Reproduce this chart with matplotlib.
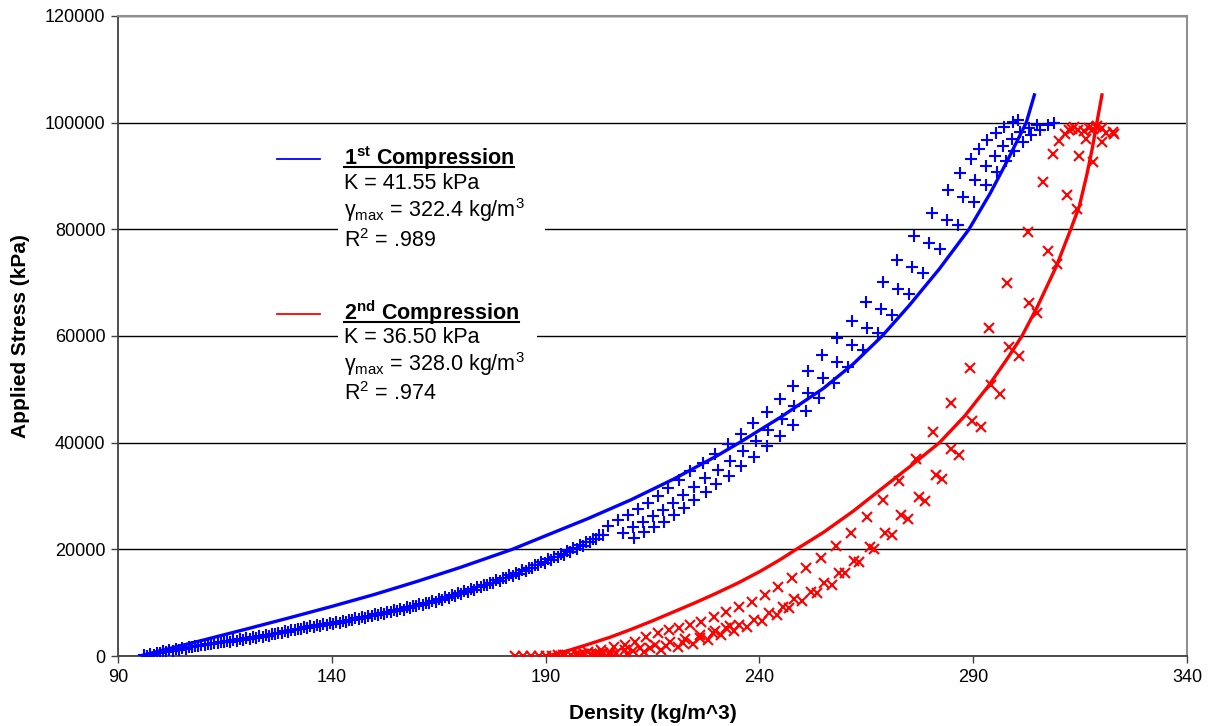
import numpy as np
import matplotlib.pyplot as plt
from matplotlib.patches import Rectangle
from matplotlib.lines import Line2D

plt.rcParams['font.family'] = ['Liberation Sans', 'DejaVu Sans']
plt.rcParams['mathtext.fontset'] = 'custom'
plt.rcParams['mathtext.rm'] = 'Liberation Sans'
plt.rcParams['mathtext.it'] = 'Liberation Sans:italic'
plt.rcParams['mathtext.bf'] = 'Liberation Sans:bold'

# ---- data ----
# 1st compression, measured points (dense band, then three interleaved strands)
blue_band_x = [96, 97.5, 99, 100.5, 102, 103.5, 105, 106.5, 108, 109.5, 111, 112.5, 114, 115.5,
               117, 118.5, 120, 121.5, 123, 124.5, 126, 127.5, 129, 130.5, 132, 133.5, 135, 136.5,
               138, 139.5, 141, 142.5, 144, 145.5, 147, 148.5, 150, 151.5, 153, 154.5, 156, 157.5,
               159, 160.5, 162, 163.5, 165, 166.5, 168, 169.5, 171, 172.5, 174, 175.5, 177, 178.5,
               180, 181.5, 183, 184.5, 186, 187.5, 189, 190.5, 192, 193.5, 195, 196.5, 198, 199.5,
               201, 202.5]
blue_band_y = [100, 350, 600, 850, 1050, 1300, 1500, 1700, 1900, 2100, 2300, 2450, 2650, 2800,
               2950, 3100, 3300, 3500, 3700, 3900, 4150, 4400, 4650, 4900, 5150, 5350, 5550, 5750,
               5950, 6150, 6350, 6550, 6800, 7050, 7300, 7550, 7800, 8050, 8300, 8550, 8800, 9100,
               9400, 9700, 10000, 10300, 10650, 11000, 11350, 11750, 12150, 12550, 12950, 13350, 13750, 14200,
               14650, 15100, 15550, 16050, 16550, 17100, 17600, 18100, 18600, 19100, 19600, 20200, 20800, 21400,
               22000, 22700]

blue_band2_x = [96.8, 98.3, 99.8, 101.3, 102.8, 104.3, 105.8, 107.3, 108.8, 110.3, 111.8, 113.3,
                114.8, 116.3, 117.8, 119.3, 120.8, 122.3, 123.8, 125.3, 126.8, 128.3, 129.8, 131.3,
                132.8, 134.3, 135.8, 137.3, 138.8, 140.3, 141.8, 143.3, 144.8, 146.3, 147.8, 149.3,
                150.8, 152.3, 153.8, 155.3, 156.8, 158.3, 159.8, 161.3, 162.8, 164.3, 165.8, 167.3,
                168.8, 170.3, 171.8, 173.3, 174.8, 176.3, 177.8, 179.3, 180.8, 182.3, 183.8, 185.3,
                186.8, 188.3, 189.8, 191.3, 192.8, 194.3, 195.8, 197.3, 198.8, 200.3, 201.8, 203.3]
blue_band2_y = [0, 250, 500, 750, 950, 1200, 1400, 1600, 1800, 2000, 2200, 2350,
                2550, 2700, 2850, 3000, 3200, 3400, 3600, 3800, 4050, 4300, 4550, 4800,
                5050, 5250, 5450, 5650, 5850, 6050, 6250, 6450, 6700, 6950, 7200, 7450,
                7700, 7950, 8200, 8450, 8700, 9000, 9300, 9600, 9900, 10200, 10550, 10900,
                11250, 11650, 12050, 12450, 12850, 13250, 13650, 14100, 14550, 15000, 15450, 15950,
                16450, 17000, 17500, 18000, 18500, 19000, 19500, 20100, 20700, 21300, 21900, 22600]

blue_a_x = [204.6, 206.9, 209.2, 211.6, 213.9, 216.2, 218.6, 221.3, 223.8, 226.8, 229.7, 232.6,
            235.7, 238.6, 241.7, 244.7, 247.9, 251.3, 254.6, 258.1, 261.6, 264.9, 268.8, 272.2,
            276.2, 280.3, 284.0, 286.9, 289.5, 291.4, 293.3, 295.3, 297.2, 299.2, 300.5]
blue_a_y = [24400, 25500, 26400, 27500, 28700, 30000, 31500, 33000, 34600, 36100, 37900, 39700,
            41600, 43600, 45700, 48200, 50700, 53500, 56400, 59600, 62800, 66300, 70200, 74200,
            78700, 83100, 87400, 90600, 93100, 95000, 96700, 98000, 99100, 100200, 100500]

blue_b_x = [208.1, 210.4, 212.7, 215.1, 217.4, 219.7, 222.1, 224.8, 227.3, 230.3, 233.2, 236.1,
            239.2, 242.1, 245.2, 248.2, 251.4, 254.8, 258.1, 261.6, 265.1, 268.4, 272.3, 275.7,
            279.7, 283.8, 287.5, 290.4, 293.0, 295.0, 297.0, 299.0, 301.0, 303.0, 305.0]
blue_b_y = [23100, 24200, 25100, 26200, 27400, 28700, 30200, 31700, 33300, 34800, 36600, 38400,
            40300, 42300, 44400, 46900, 49400, 52200, 55100, 58300, 61500, 65000, 68900, 72900,
            77400, 81800, 86100, 89300, 91800, 93800, 95600, 97000, 98200, 99000, 99500]

blue_c_x = [210.7, 213.0, 215.3, 217.7, 220.0, 222.3, 224.7, 227.4, 229.9, 232.9, 235.8, 238.7,
            241.8, 244.7, 247.8, 250.8, 254.0, 257.4, 260.7, 264.2, 267.7, 271.0, 274.9, 278.3,
            282.3, 286.4, 290.1, 293.0, 295.6, 297.6, 299.6, 301.6, 303.6, 305.6, 307.5, 309.0]
blue_c_y = [22100, 23200, 24100, 25200, 26400, 27700, 29200, 30700, 32300, 33800, 35600, 37400,
            39300, 41300, 43400, 45900, 48400, 51200, 54100, 57300, 60500, 64000, 67900, 71900,
            76400, 80800, 85100, 88300, 90800, 92800, 94700, 96300, 97600, 98700, 99500, 100000]

# 2nd compression, measured points
red_zero_x = [182.8, 184.7, 186.6, 188.5, 190.2, 191.5, 193, 194.5, 196, 197.5, 199, 200.5, 202, 203.5]
red_zero_y = [0, 0, 0, 0, 0, 50, 100, 150, 150, 200, 300, 300, 450, 500]

red_a_x = [194, 197, 200, 203, 206, 208.5, 210.8, 213.5, 216.2, 218.8, 221.3, 223.8, 226.4, 229.3,
           232.2, 235.2, 238.2, 241.2, 244.3, 247.6, 250.9, 254.4, 257.9, 261.4, 265.1, 268.8,
           272.7, 276.6, 280.7, 284.9, 289.2, 293.6, 298.0, 302.7, 306.4, 308.7, 310.1, 311.5,
           312.4, 313.2]
red_a_y = [100, 400, 800, 1200, 1600, 2100, 2700, 3500, 4350, 4800, 5200, 5800, 6450, 7300,
           8200, 9150, 10200, 11500, 13000, 14700, 16450, 18300, 20700, 23100, 26000, 29250,
           32900, 36950, 41950, 47500, 53950, 61450, 70000, 79550, 88950, 94100, 96600, 97900,
           98600, 98900]

red_d_x = [198, 201.5, 205, 208.5, 212, 215.5, 219, 222.5, 226, 229.5, 233]
red_d_y = [200, 450, 750, 1100, 1550, 2050, 2600, 3250, 3950, 4750, 5600]

red_b_x = [202.6, 206.5, 210.4, 214.3, 218.2, 222.1, 226.0, 229.1, 232.2, 235.3, 238.8, 242.3,
           245.4, 248.2, 252.1, 255.2, 258.7, 262.0, 265.9, 269.4, 273.1, 277.2, 281.3, 284.8,
           289.8, 294.1, 298.3, 303.1, 307.6, 312.0, 314.8, 316.3, 318.7]
red_b_y = [375, 625, 1000, 1440, 1875, 2500, 3310, 4250, 5190, 5810, 6750, 8000,
           9250, 10625, 12060, 13625, 15500, 17875, 20500, 23125, 26440, 29875, 33940, 38750,
           44125, 50810, 58000, 66250, 76000, 86440, 93750, 96875, 99250]

red_c_x = [205, 209, 213, 217, 221, 224.5, 228, 231, 234, 237, 240.5, 244, 247, 250, 253.5, 257,
           259.9, 263.2, 266.9, 270.9, 274.7, 278.7, 282.8, 286.6, 291.8, 296.3, 300.6, 305.0,
           309.7, 314.3, 317.9, 320.2, 322.6]
red_c_y = [200, 450, 800, 1200, 1700, 2300, 3000, 3900, 4700, 5500, 6500, 7700, 9000, 10300, 11800, 13300,
           15500, 17625, 20000, 22690, 25625, 29125, 33190, 37690, 43000, 49125, 56250, 64250,
           73500, 83750, 92690, 96440, 98310]

red_top_x = [313.5, 314.5, 316, 317, 318, 319, 320, 321, 323]
red_top_y = [99200, 98700, 98500, 99000, 98800, 99300, 99000, 98000, 97800]

# fitted curves
fit1_x = [95.1, 100, 110, 120, 130, 140, 150, 160, 170, 182.2, 190, 200, 210, 220, 230, 235.3,
          245, 255, 262, 268.7, 275, 282, 289, 294, 298, 302.4, 304.3]
fit1_y = [0, 1000, 3000, 5050, 7150, 9300, 11550, 14000, 16600, 20000, 22550, 25800, 29300, 33200,
          37500, 40000, 44800, 50200, 54800, 60000, 65700, 72500, 80000, 86800, 92900, 100000, 105200]

fit2_x = [190.2, 193, 196, 200, 205, 210, 215, 220, 225, 230, 235, 240, 244.7, 248.6, 255, 262,
          268, 275, 282.1, 288, 293.7, 298, 301.4, 305, 309.4, 312.8, 314.8, 316.5, 317.8, 318.8, 320.1]
fit2_y = [0, 500, 1200, 2200, 3500, 5000, 6600, 8300, 10000, 11800, 13700, 15800, 18000, 20000,
          23200, 27200, 31000, 35400, 40000, 45000, 50800, 55800, 60000, 65500, 73000, 80000, 84300,
          90000, 95000, 99500, 105200]

x_ticks = [90, 140, 190, 240, 290, 340]
y_ticks = [0, 20000, 40000, 60000, 80000, 100000, 120000]

BLUE = '#0000ff'
RED = '#ff0000'

fig = plt.figure(figsize=(12.13, 7.26), dpi=100)
ax = fig.add_axes([0.0973, 0.0964, 0.8813, 0.8816])

blue_x = blue_band_x + blue_band2_x + blue_a_x + blue_b_x + blue_c_x
blue_y = blue_band_y + blue_band2_y + blue_a_y + blue_b_y + blue_c_y
red_x = red_zero_x + red_a_x + red_d_x + red_b_x + red_c_x + red_top_x
red_y = red_zero_y + red_a_y + red_d_y + red_b_y + red_c_y + red_top_y

ax.plot(blue_x, blue_y, ls='none', marker='+', ms=8.5, mew=1.5, color=BLUE, zorder=3)
ax.plot(red_x, red_y, ls='none', marker='x', ms=6.8, mew=1.5, color=RED, zorder=3)
ax.plot(fit1_x, fit1_y, color=BLUE, lw=2.4, zorder=4, solid_joinstyle='round')
ax.plot(fit2_x, fit2_y, color=RED, lw=2.4, zorder=4, solid_joinstyle='round')

ax.set_xlim(90, 340)
ax.set_ylim(0, 120000)
ax.set_xticks(x_ticks)
ax.set_yticks(y_ticks)
ax.tick_params(direction='out', length=5, width=1, labelsize=13, pad=4, color='#404040')
ax.yaxis.grid(True, color='black', lw=1)
ax.set_axisbelow(True)
for s in ['left', 'bottom']:
    ax.spines[s].set_color('#404040')
    ax.spines[s].set_linewidth(1.3)
for s in ['top', 'right']:
    ax.spines[s].set_color('#909090')
    ax.spines[s].set_linewidth(1.5)

ax.set_xlabel('Density (kg/m^3)', fontsize=15, fontweight='bold', labelpad=13)
ax.set_ylabel('Applied Stress (kPa)', fontsize=15, fontweight='bold', labelpad=11)

# white boxes behind the legend text (they hide the grid lines)
ax.add_patch(Rectangle((0.2058, 0.6156), 0.1936, 0.194, transform=ax.transAxes,
                       facecolor='white', edgecolor='none', zorder=1.5))
ax.add_patch(Rectangle((0.2058, 0.381), 0.1862, 0.186, transform=ax.transAxes,
                       facecolor='white', edgecolor='none', zorder=1.5))

ax.add_line(Line2D([0.1487, 0.189], [0.7766, 0.7766], transform=ax.transAxes, color=BLUE, lw=1.3))
ax.add_line(Line2D([0.1487, 0.189], [0.5344, 0.5344], transform=ax.transAxes, color=RED, lw=1.3))

tx = 0.2114
fs = 15.5
titles = []
titles.append(ax.text(tx, 0.7672, r'$\mathbf{1^{st}}$ Compression', transform=ax.transAxes,
                      fontsize=fs, fontweight='bold', va='baseline', zorder=5))
ax.text(tx, 0.7292, 'K = 41.55 kPa', transform=ax.transAxes, fontsize=fs, va='baseline', zorder=5)
ax.text(tx, 0.6855, r'$\mathrm{γ_{max}}$ = 322.4 kg/$\mathrm{m^3}$', transform=ax.transAxes,
        fontsize=fs, va='baseline', zorder=5)
ax.text(tx, 0.6386, r'$\mathrm{R^2}$ = .989', transform=ax.transAxes, fontsize=fs, va='baseline', zorder=5)

titles.append(ax.text(tx, 0.525, r'$\mathbf{2^{nd}}$ Compression', transform=ax.transAxes,
                      fontsize=fs, fontweight='bold', va='baseline', zorder=5))
ax.text(tx, 0.4886, 'K = 36.50 kPa', transform=ax.transAxes, fontsize=fs, va='baseline', zorder=5)
ax.text(tx, 0.4458, r'$\mathrm{γ_{max}}$ = 328.0 kg/$\mathrm{m^3}$', transform=ax.transAxes,
        fontsize=fs, va='baseline', zorder=5)
ax.text(tx, 0.40, r'$\mathrm{R^2}$ = .974', transform=ax.transAxes, fontsize=fs, va='baseline', zorder=5)

# underline the two titles
renderer = fig.canvas.get_renderer()
inv = ax.transAxes.inverted()
for t in titles:
    bb = t.get_window_extent(renderer)
    (x0, _), (x1, _) = inv.transform([[bb.x0, 0], [bb.x1, 0]])
    _, yb = t.get_position()
    yl = yb - 2.5 / 640
    ax.add_line(Line2D([x0, x1], [yl, yl], transform=ax.transAxes, color='black', lw=1.5, zorder=5))

fig.savefig('out.png', dpi=100)
